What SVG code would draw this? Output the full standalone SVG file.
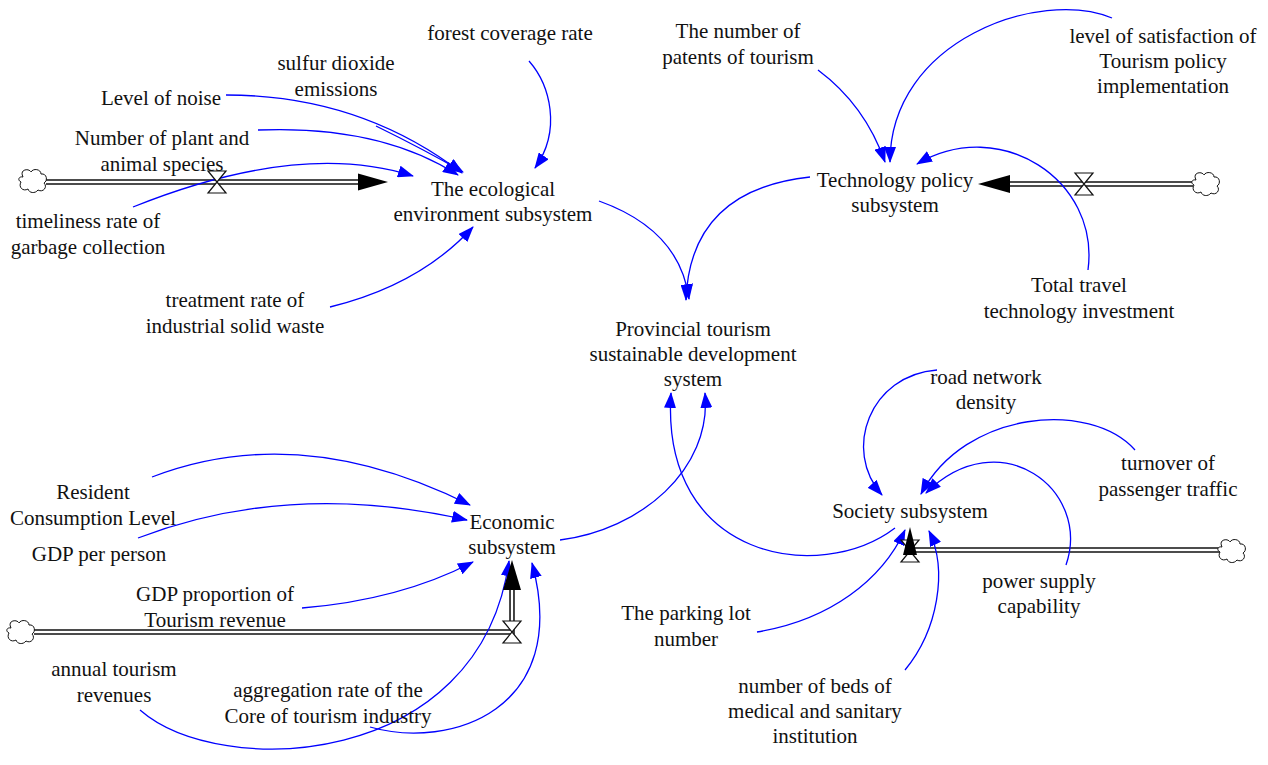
<svg xmlns="http://www.w3.org/2000/svg" width="1268" height="765" viewBox="0 0 1268 765">
<defs>
<style>
.lbl{font-size:21px;fill:#111;text-anchor:middle}
.lbl text{font-family:"Liberation Serif","DejaVu Serif",serif}
.link{fill:none;stroke:#0000ff;stroke-width:1.3;marker-end:url(#ah)}
.pipeo{fill:none;stroke:#111;stroke-width:5.5}
.pipei{fill:none;stroke:#fff;stroke-width:2.4}
.valve{fill:#fff;stroke:#111;stroke-width:1.2}
.cloud{fill:#fff;stroke:#111;stroke-width:1}
.fhead{fill:#000}
</style>
<marker id="ah" markerUnits="userSpaceOnUse" markerWidth="16" markerHeight="12" viewBox="0 0 16 12" refX="15" refY="6" orient="auto">
<path d="M0,0 L16,6 L0,12 Z" fill="#0000ff"/>
</marker>
<path id="cloudShape" d="M-10,-4 C-14,-12 -4,-13 -2,-9 C0,-13 8,-12 8,-7 C14,-8 15,0 11,2 C15,6 10,12 5,9 C2,13 -4,12 -5,8 C-10,11 -15,6 -12,1 C-16,-1 -14,-5 -10,-4 Z"/>
<path id="valveShape" d="M-9,-11 L9,-11 L-9,11 L9,11 Z"/>
</defs>
<rect width="1268" height="765" fill="#fff"/>

<g id="connectors">
<path class="pipeo" d="M46,182 L360,182"/><path class="pipei" d="M46,182 L361,182"/>
<path class="pipeo" d="M1193,184 L1008,184"/><path class="pipei" d="M1193,184 L1007,184"/>
<path class="pipeo" d="M34,632 L512,632 L512,590"/><path class="pipei" d="M34,632 L512,632 L512,589"/>
<path class="pipeo" d="M1220,550 L912,550"/><path class="pipei" d="M1220,550 L912,550"/>

<path class="link" d="M529,61 C550,85 562,130 535,168"/>
<path class="link" d="M376,126 Q425,150 463,172"/>
<path class="link" d="M226,95 Q360,95 462,173"/>
<path class="link" d="M258,130 Q380,125 458,175"/>
<path class="link" d="M133,207 Q300,140 413,176"/>
<path class="link" d="M330,307 Q420,285 473,227"/>
<path class="link" d="M599,201 Q680,230 689,299"/>
<path class="link" d="M810,177 Q690,190 686,300"/>
<path class="link" d="M818,70 Q865,105 885,162"/>
<path class="link" d="M1112,18 C1040,-12 890,40 890,162"/>
<path class="link" d="M1088,270 C1100,180 1000,115 917,164"/>
<path class="link" d="M560,540 C640,530 712,470 705,393"/>
<path class="link" d="M895,528 C820,585 660,560 671,393"/>
<path class="link" d="M937,370 C870,375 842,450 882,495"/>
<path class="link" d="M1135,450 C1090,400 965,410 921,494"/>
<path class="link" d="M1066,565 C1092,490 1000,420 926,493"/>
<path class="link" d="M757,632 C830,620 882,580 905,530"/>
<path class="link" d="M905,670 C938,630 948,570 929,531"/>
<path class="link" d="M152,477 Q300,420 470,505"/>
<path class="link" d="M138,538 Q290,480 467,520"/>
<path class="link" d="M302,608 Q400,600 473,562"/>
<path class="link" d="M140,710 C220,780 480,770 509,561"/>
<path class="link" d="M370,727 C450,750 572,710 532,563"/>
</g>

<g id="flow-ecology">
<use href="#cloudShape" class="cloud" x="33" y="181"/>
<use href="#valveShape" class="valve" x="217" y="182"/>
<polygon class="fhead" points="358,173.5 388,182 358,190.5"/>
</g>
<g id="flow-technology">
<use href="#cloudShape" class="cloud" x="1206" y="184"/>
<use href="#valveShape" class="valve" x="1084" y="184"/>
<polygon class="fhead" points="1010,175 978,184 1010,193"/>
</g>
<g id="flow-economic">
<use href="#cloudShape" class="cloud" x="21" y="632"/>
<use href="#valveShape" class="valve" x="512" y="632"/>
<polygon class="fhead" points="503,590 512,560 521,590"/>
</g>
<g id="flow-society">
<use href="#cloudShape" class="cloud" x="1232" y="551"/>
<use href="#valveShape" class="valve" x="910" y="551"/>
<polygon class="fhead" points="903,555 910,527 917,555"/>
</g>

<g class="lbl" font-family="Liberation Serif, DejaVu Serif, serif" style="font-family:'Liberation Serif','DejaVu Serif',serif">
<g id="forest-coverage-rate"><text x="510" y="40">forest coverage rate</text></g>
<g id="sulfur-dioxide"><text x="336" y="70">sulfur dioxide</text><text x="336" y="96">emissions</text></g>
<g id="level-of-noise"><text x="161" y="105">Level of noise</text></g>
<g id="plant-animal-species"><text x="162" y="145">Number of plant and</text><text x="162" y="171">animal species</text></g>
<g id="garbage-collection"><text x="88" y="228">timeliness rate of</text><text x="88" y="254">garbage collection</text></g>
<g id="solid-waste"><text x="235" y="307">treatment rate of</text><text x="235" y="333">industrial solid waste</text></g>
<g id="ecology-subsystem"><text x="493" y="196">The ecological</text><text x="493" y="221">environment subsystem</text></g>
<g id="patents"><text x="738" y="38">The number of</text><text x="738" y="64">patents of tourism</text></g>
<g id="policy-satisfaction"><text x="1163" y="43">level of satisfaction of</text><text x="1163" y="68">Tourism policy</text><text x="1163" y="93">implementation</text></g>
<g id="technology-subsystem"><text x="895" y="187">Technology policy</text><text x="895" y="212">subsystem</text></g>
<g id="technology-investment"><text x="1079" y="292">Total travel</text><text x="1079" y="318">technology investment</text></g>
<g id="provincial-system"><text x="693" y="336">Provincial tourism</text><text x="693" y="361">sustainable development</text><text x="693" y="386">system</text></g>
<g id="road-network"><text x="986" y="384">road network</text><text x="986" y="409">density</text></g>
<g id="passenger-turnover"><text x="1168" y="470">turnover of</text><text x="1168" y="496">passenger traffic</text></g>
<g id="society-subsystem"><text x="910" y="518">Society subsystem</text></g>
<g id="power-supply"><text x="1039" y="588">power supply</text><text x="1039" y="613">capability</text></g>
<g id="parking-lot"><text x="686" y="620">The parking lot</text><text x="686" y="646">number</text></g>
<g id="medical-beds"><text x="815" y="693">number of beds of</text><text x="815" y="718">medical and sanitary</text><text x="815" y="743">institution</text></g>
<g id="resident-consumption"><text x="93" y="499">Resident</text><text x="93" y="525">Consumption Level</text></g>
<g id="gdp-per-person"><text x="99" y="561">GDP per person</text></g>
<g id="economic-subsystem"><text x="512" y="529">Economic</text><text x="512" y="554">subsystem</text></g>
<g id="gdp-proportion"><text x="215" y="601">GDP proportion of</text><text x="215" y="627">Tourism revenue</text></g>
<g id="annual-revenues"><text x="114" y="676">annual tourism</text><text x="114" y="702">revenues</text></g>
<g id="core-aggregation"><text x="328" y="697">aggregation rate of the</text><text x="328" y="723">Core of tourism industry</text></g>
</g>
</svg>
